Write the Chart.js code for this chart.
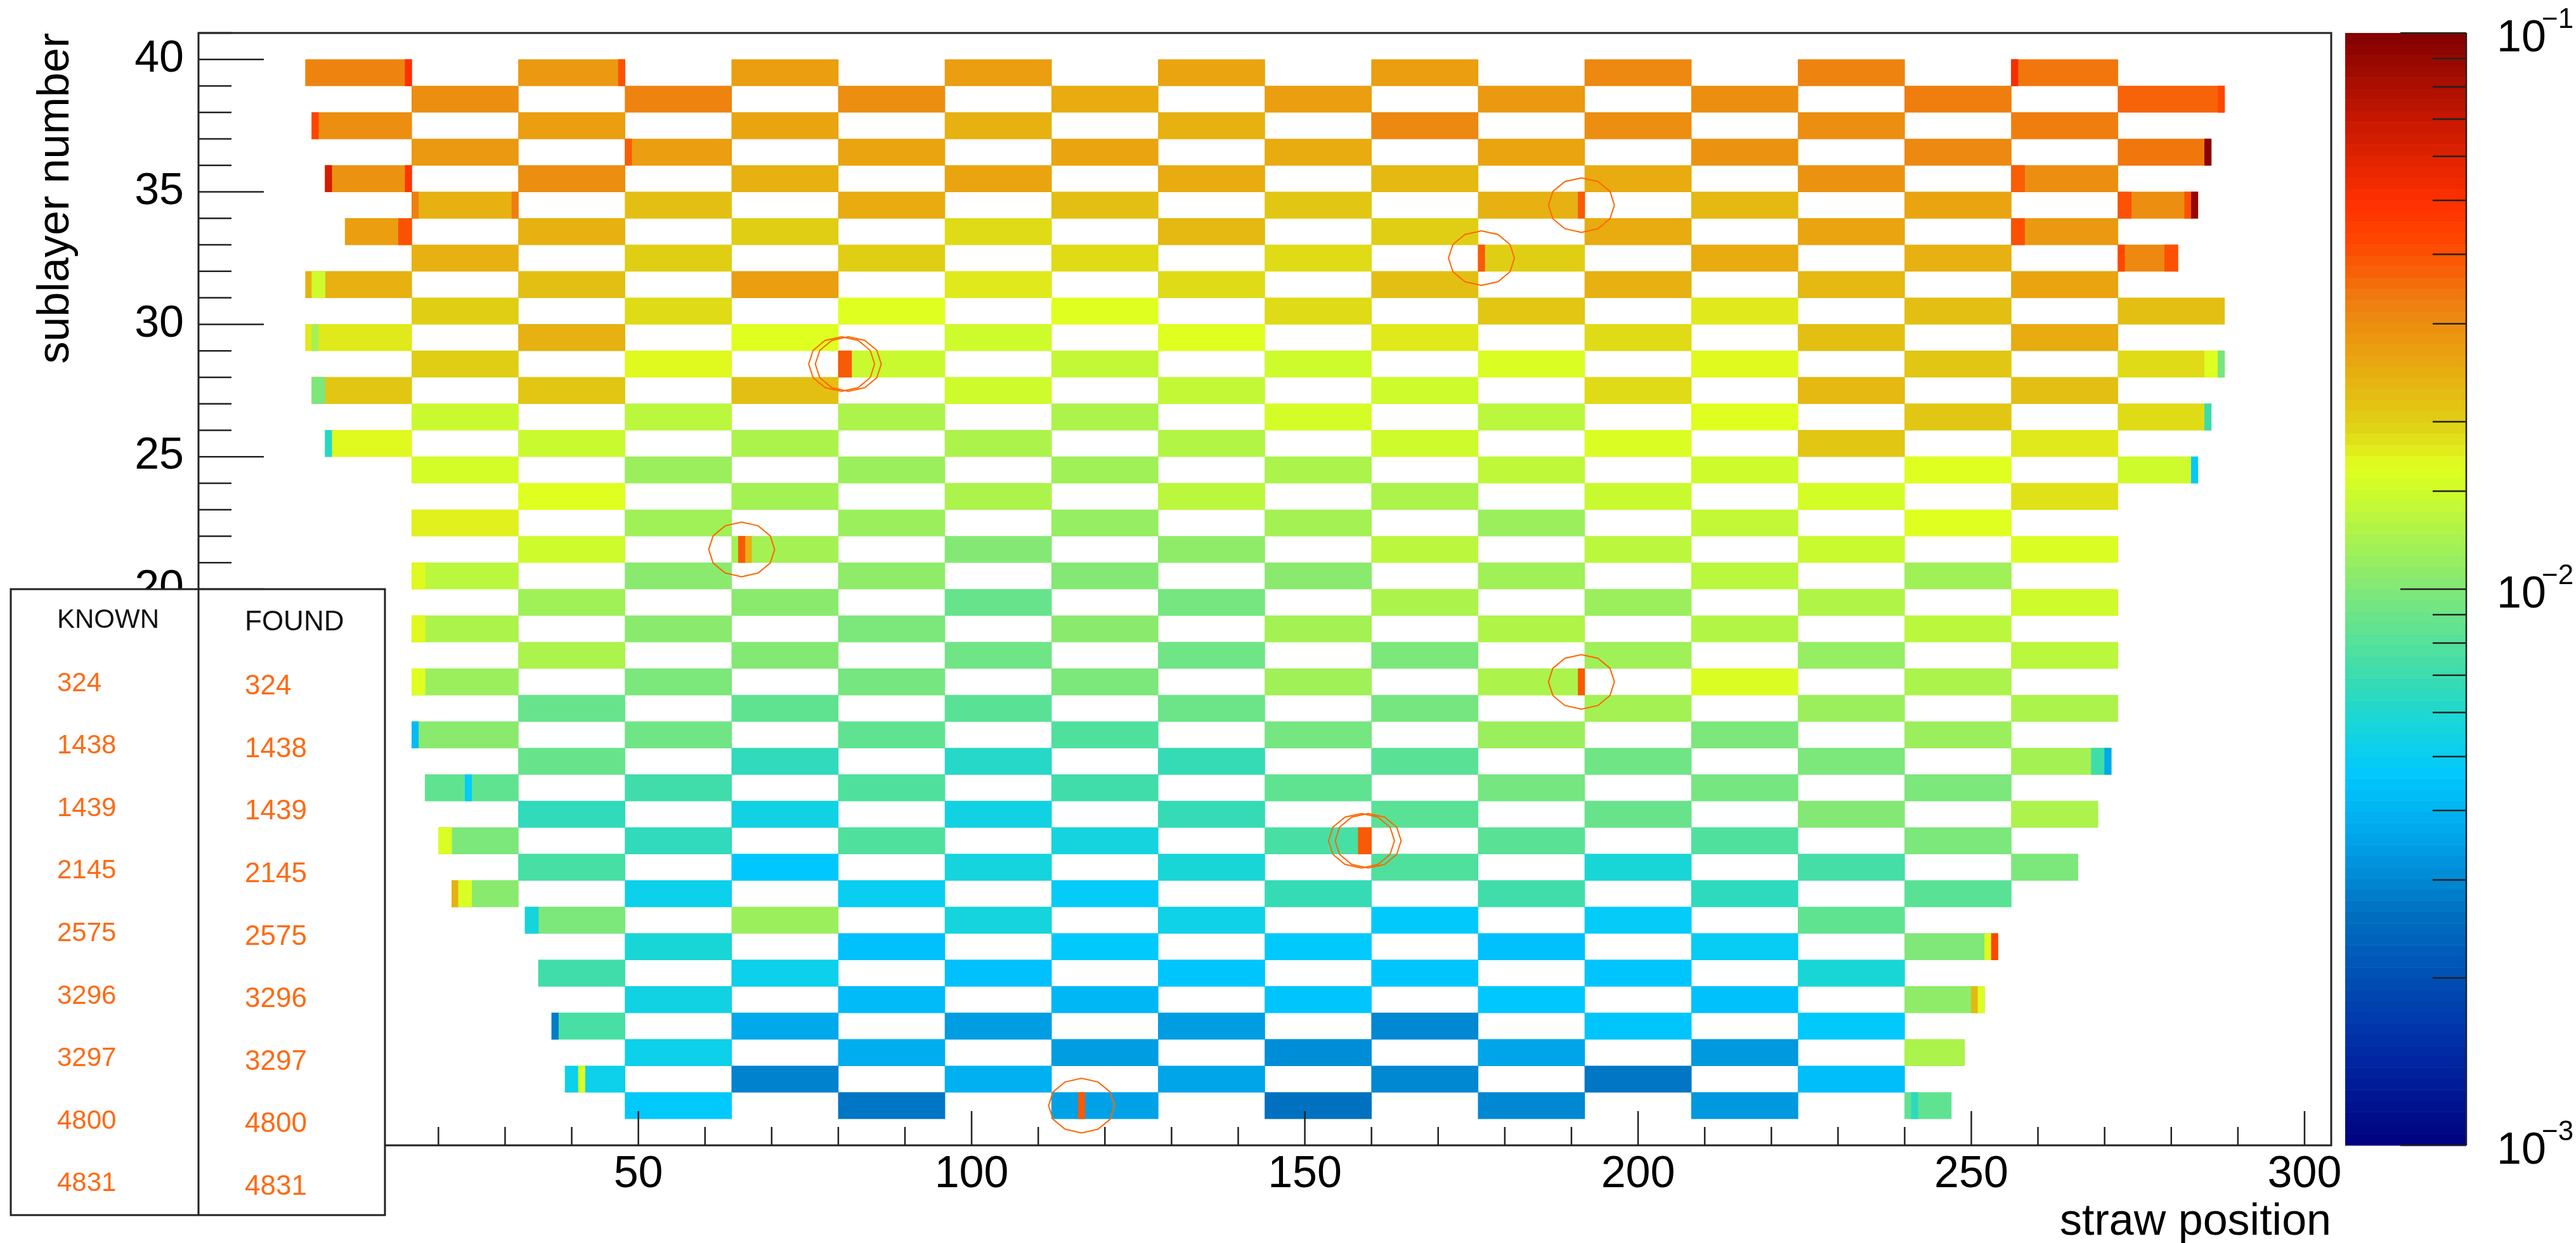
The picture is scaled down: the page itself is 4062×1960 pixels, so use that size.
<!DOCTYPE html>
<html>
<head>
<meta charset="utf-8">
<title>sublayer map</title>
<script src="https://cdn.jsdelivr.net/npm/chart.js@4"></script>
<style>
    html, body { margin: 0; padding: 0; background: #fff; }
    canvas { display: block; }
</style>
</head>
<body>
<canvas id="myChart" width="4062" height="1960"></canvas>
<script>
// rows run from the top of the picture (39) down to 0
const rowNumbers = [39,38,37,36,35,34,33,32,31,30,29,28,27,26,25,24,23,22,21,20,19,18,17,16,15,14,13,12,11,10,9,8,7,6,5,4,3,2,1,0];
const firstStraw = [0,16,1,16,3,16,6,16,0,16,0,16,1,16,3,16,32,16,32,16,32,16,32,16,32,16,32,18,32,20,32,22,33,48,35,48,37,48,39,48];
const lastStraw = [272,288,272,286,272,284,272,281,272,288,272,288,272,286,272,284,272,256,272,256,272,256,272,256,272,256,271,256,269,256,266,256,240,254,240,252,240,249,240,247];

// one level per 16-straw board, every second board in a row
const boardValues = [
    [.032,.028,.027,.027,.026,.027,.031,.032,.034],
    [.03,.032,.03,.025,.027,.028,.03,.033,.037],
    [.03,.027,.026,.024,.024,.031,.03,.03,.033],
    [.028,.027,.026,.026,.025,.026,.029,.031,.034],
    [.029,.03,.024,.026,.025,.023,.025,.029,.03],
    [.024,.022,.025,.022,.021,.024,.023,.026,.03],
    [.027,.024,.02,.019,.023,.02,.025,.026,.028],
    [.024,.02,.02,.019,.019,.02,.025,.024,.031],
    [.024,.022,.027,.018,.019,.022,.024,.023,.026],
    [.02,.019,.0165,.0165,.019,.021,.018,.022,.022],
    [.018,.024,.0165,.015,.0165,.018,.019,.022,.025],
    [.02,.017,.0145,.014,.015,.016,.017,.021,.019],
    [.021,.021,.022,.015,.014,.015,.019,.023,.022],
    [.0145,.0135,.0125,.0125,.0155,.0135,.0165,.021,.019],
    [.017,.0145,.0125,.0125,.013,.015,.016,.021,.018],
    [.0155,.0115,.0115,.0118,.0125,.0138,.015,.0165,.015],
    [.0165,.012,.0125,.0135,.0125,.0145,.0155,.0185],
    [.0175,.0118,.0115,.0112,.012,.0115,.014,.0165],
    [.015,.012,.0102,.0108,.0135,.0135,.0145,.016],
    [.0135,.0105,.0108,.0102,.0105,.0118,.0135,.0118],
    [.0118,.0105,.0088,.0095,.0125,.0115,.0128,.015],
    [.0125,.0105,.0098,.0105,.012,.0128,.013,.0135],
    [.0125,.0102,.0092,.0092,.0098,.0118,.0112,.0135],
    [.0115,.0098,.0095,.0098,.0118,.0125,.016,.0125],
    [.0088,.0085,.0082,.009,.0095,.012,.0115,.0125],
    [.0105,.0092,.0085,.0078,.0095,.0115,.0098,.0115],
    [.0088,.0066,.0062,.0068,.0082,.0092,.0098,.012],
    [.0085,.0072,.0078,.0072,.0085,.0095,.0095,.0098],
    [.0066,.0054,.0054,.0068,.0082,.0088,.0102,.0125],
    [.0098,.0066,.0078,.0056,.0075,.0082,.0078,.0098],
    [.0075,.0046,.0056,.0058,.0078,.0058,.0074,.0098],
    [.0105,.0052,.005,.0048,.0068,.0072,.0065,.0082],
    [.0098,.0115,.0056,.0053,.0047,.0048,.0085],
    [.0058,.0044,.0047,.0047,.0044,.0049,.01],
    [.0072,.0052,.0044,.0045,.0045,.0045,.0058],
    [.0054,.0042,.0041,.0045,.0046,.0044,.0108],
    [.0075,.0037,.0034,.0034,.003,.0045,.0047],
    [.0052,.0038,.0034,.0031,.0036,.0033,.0125],
    [.0052,.0029,.0039,.0036,.003,.0027,.0043],
    [.0047,.0027,.0035,.0026,.003,.0033,.0085],
];

// single straws that stand out from their board
const oddRows = [39,39,39,38,37,36,36,35,35,35,35,34,34,34,34,34,34,33,33,33,33,32,32,32,31,31,29,28,28,28,27,27,26,25,24,21,20,20,18,18,16,16,14,13,13,13,12,10,10,8,8,8,7,7,6,6,4,4,3,1,0];
const oddStraws = [15,47,256,287,1,48,285,3,15,256,257,16,31,272,273,282,283,14,15,256,257,272,279,280,1,2,1,285,286,287,1,2,285,3,283,66,16,17,16,17,16,17,16,268,269,270,24,20,21,22,23,24,33,34,252,253,250,251,37,41,241];
const oddValues = [.05,.04,.052,.042,.043,.038,.095,.065,.048,.038,.038,.033,.033,.04,.04,.04,.09,.04,.04,.04,.04,.042,.04,.04,.015,.015,.012,.0165,.0165,.0095,.0098,.0098,.007,.0062,.0047,.024,.017,.017,.017,.017,.0165,.0165,.0042,.0072,.0072,.0037,.0048,.016,.016,.024,.016,.016,.0056,.0056,.017,.042,.023,.016,.0028,.016,.0065];

// the straws circled in the picture
const foundRows = [34,32,28,28,21,16,10,10,0];
const foundStraws = [191,176,80,81,65,191,158,159,116];
const foundValue = .0385;

const knownIds = ["324","1438","1439","2145","2575","3296","3297","4800","4831"];
const foundIds = ["324","1438","1439","2145","2575","3296","3297","4800","4831"];

const xTickValues = [0,10,20,30,40,50,60,70,80,90,100,110,120,130,140,150,160,170,180,190,200,210,220,230,240,250,260,270,280,290,300];
const xTickLabels = [50,100,150,200,250,300];
const yTickLabels = [40,35,30,25,20];
const zMin = 0.001;
const zMax = 0.1;

const paletteStops = [
    [0, [0,0,128]], [.1, [0,50,170]], [.208, [0,112,192]], [.27, [0,160,230]], [.332, [0,200,255]],
    [.38, [24,214,216]], [.42, [56,220,176]], [.5, [128,232,120]], [.58, [200,250,48]], [.61, [224,255,32]],
    [.648, [224,208,21]], [.70, [232,170,16]], [.757, [238,128,16]], [.81, [255,72,0]], [.848, [255,48,0]],
    [.92, [200,24,0]], [1, [128,0,0]],
];

const fontName = "'Liberation Sans', Arial, sans-serif";
const frameColor = "#222";
const orange = "#ff6a14";

function paletteColor(t) {
    t = Math.max(0, Math.min(1, t));
    for (let i = 1; i < paletteStops.length; i++) {
        if (t <= paletteStops[i][0]) {
            const [t0, c0] = paletteStops[i - 1];
            const [t1, c1] = paletteStops[i];
            const f = (t - t0) / (t1 - t0);
            const rgb = c0.map((c, j) => Math.round(c + (c1[j] - c) * f));
            return `rgb(${rgb[0]},${rgb[1]},${rgb[2]})`;
        }
    }
    return "rgb(128,0,0)";
}

function valueColor(v) {
    return paletteColor((Math.log10(v) - Math.log10(zMin)) / (Math.log10(zMax) - Math.log10(zMin)));
}

function buildBars() {
    const bars = [];
    rowNumbers.forEach((row, i) => {
        let board = Math.floor(firstStraw[i] / 16);
        for (const v of boardValues[i]) {
            const from = Math.max(board * 16, firstStraw[i]);
            const to = Math.min(board * 16 + 16, lastStraw[i]);
            bars.push({ x: [from, to], y: row + 0.5, v: v });
            board += 2;
        }
    });
    oddRows.forEach((row, i) => {
        bars.push({ x: [oddStraws[i], oddStraws[i] + 1], y: row + 0.5, v: oddValues[i] });
    });
    foundRows.forEach((row, i) => {
        bars.push({ x: [foundStraws[i], foundStraws[i] + 1], y: row + 0.5, v: foundValue });
    });
    return bars;
}

function line(ctx, x0, y0, x1, y1) {
    ctx.beginPath();
    ctx.moveTo(x0, y0);
    ctx.lineTo(x1, y1);
    ctx.stroke();
}

function noPadding(scale) {
    scale.paddingTop = 0;
    scale.paddingBottom = 0;
    scale.paddingLeft = 0;
    scale.paddingRight = 0;
}

// axis ticks point into the frame, which the library does not do by itself
function drawFrameAndTicks(chart) {
    const ctx = chart.ctx;
    const area = chart.chartArea;
    ctx.strokeStyle = frameColor;
    ctx.lineWidth = 3;
    ctx.strokeRect(area.left, area.top, area.right - area.left, area.bottom - area.top);
    ctx.lineWidth = 2.5;
    for (const t of chart.scales.y.ticks) {
        const y = chart.scales.y.getPixelForValue(t.value);
        line(ctx, area.left, y, area.left + (t.value % 5 === 0 ? 103 : 52), y);
    }
    for (const t of chart.scales.x.ticks) {
        const x = chart.scales.x.getPixelForValue(t.value);
        line(ctx, x, area.bottom, x, area.bottom - (t.value % 50 === 0 ? 54 : 29));
    }
}

function drawColorBar(chart) {
    const ctx = chart.ctx;
    const z = chart.scales.z;
    const left = z.left + 22;
    const right = z.left + 213;
    const steps = 100;
    for (let i = 0; i < steps; i++) {
        const lo = Math.pow(10, -3 + 2 * i / steps);
        const hi = Math.pow(10, -3 + 2 * (i + 1) / steps);
        const y0 = z.getPixelForValue(hi);
        const y1 = z.getPixelForValue(lo);
        ctx.fillStyle = paletteColor((i + 0.5) / steps);
        ctx.fillRect(left, y0, right - left, y1 - y0 + 0.5);
    }
    ctx.strokeStyle = frameColor;
    ctx.lineWidth = 2.5;
    line(ctx, right, z.top, right, z.bottom);
    for (const t of z.ticks) {
        const exp = Math.log10(t.value);
        const major = Math.abs(exp - Math.round(exp)) < 1e-6;
        const y = z.getPixelForValue(t.value);
        line(ctx, right, y, right - (major ? 104 : 53), y);
        if (major) {
            ctx.fillStyle = "#000";
            ctx.textAlign = "left";
            ctx.textBaseline = "middle";
            ctx.font = `70px ${fontName}`;
            ctx.fillText("10", z.left + 261, y + 10);
            ctx.font = `44px ${fontName}`;
            ctx.fillText("\u2212" + Math.abs(Math.round(exp)), z.left + 332, y - 20);
        }
    }
}

function drawCircles(chart) {
    const ctx = chart.ctx;
    ctx.strokeStyle = "#ff6600";
    ctx.lineWidth = 2;
    foundRows.forEach((row, i) => {
        const cx = chart.scales.x.getPixelForValue(foundStraws[i] + 0.5);
        const cy = chart.scales.y.getPixelForValue(row + 0.5);
        ctx.beginPath();
        for (let k = 0; k < 12; k++) {
            const a = k * Math.PI / 6;
            ctx.lineTo(cx + 52 * Math.cos(a), cy + 43 * Math.sin(a));
        }
        ctx.closePath();
        ctx.stroke();
    });
}

function drawTable(chart) {
    const ctx = chart.ctx;
    ctx.fillStyle = "#fff";
    ctx.fillRect(17, 929, 590, 987);
    ctx.strokeStyle = frameColor;
    ctx.lineWidth = 3;
    ctx.strokeRect(17, 929, 590, 987);
    line(ctx, 313, 929, 313, 1916);
    ctx.textAlign = "left";
    ctx.textBaseline = "middle";
    ctx.fillStyle = "#111";
    ctx.font = `42px ${fontName}`;
    ctx.fillText("KNOWN", 90, 978);
    ctx.font = `44px ${fontName}`;
    ctx.fillText("FOUND", 386, 982);
    ctx.fillStyle = orange;
    ctx.font = `42px ${fontName}`;
    knownIds.forEach((id, i) => ctx.fillText(id, 90, 1078 + i * 98.6));
    ctx.font = `44px ${fontName}`;
    foundIds.forEach((id, i) => ctx.fillText(id, 386, 1083 + i * 98.6));
}

const extrasPlugin = {
    id: "extras",
    afterDraw(chart) {
        drawFrameAndTicks(chart);
        drawColorBar(chart);
        drawCircles(chart);
        drawTable(chart);
    },
};

const graph = document.getElementById("myChart").getContext("2d");
const bars = buildBars();

const myChart = new Chart(graph, {
    type: "bar",
    data: {
        datasets: [{
            data: bars,
            backgroundColor: bars.map((b) => valueColor(b.v)),
            borderWidth: 0,
            borderSkipped: false,
            barPercentage: 1,
            categoryPercentage: 1,
        }],
    },
    plugins: [extrasPlugin],
    options: {
        indexAxis: "y",
        responsive: false,
        animation: false,
        devicePixelRatio: 1,
        layout: { padding: { top: 52, left: 0, right: 0, bottom: 0 } },
        plugins: { legend: { display: false }, tooltip: { enabled: false } },
        scales: {
            x: {
                type: "linear",
                position: "bottom",
                min: -16,
                max: 304,
                border: { display: false },
                grid: { drawOnChartArea: false, drawTicks: false },
                afterBuildTicks: (scale) => { scale.ticks = xTickValues.map((v) => ({ value: v })); },
                afterFit: (scale) => { scale.height = 154; noPadding(scale); },
                ticks: {
                    autoSkip: false,
                    maxRotation: 0,
                    padding: 12,
                    color: "#000",
                    font: { family: fontName, size: 70, lineHeight: 1 },
                    callback: (v) => (xTickLabels.includes(v) ? String(v) : ""),
                },
                title: {
                    display: true,
                    text: "straw position",
                    align: "end",
                    color: "#000",
                    font: { family: fontName, size: 70, lineHeight: 1 },
                    padding: { top: 0, bottom: -3 },
                },
            },
            y: {
                type: "linear",
                position: "left",
                min: -1,
                max: 41,
                offset: false,
                border: { display: false },
                grid: { offset: false, drawOnChartArea: false, drawTicks: false },
                afterFit: (scale) => { scale.width = 313; noPadding(scale); },
                ticks: {
                    stepSize: 1,
                    autoSkip: false,
                    includeBounds: false,
                    padding: 23,
                    color: "#000",
                    font: { family: fontName, size: 70, lineHeight: 1 },
                    callback: (v) => (yTickLabels.includes(v) ? String(v) : ""),
                },
                title: {
                    display: true,
                    text: "sublayer number",
                    align: "end",
                    color: "#000",
                    font: { family: fontName, size: 70, lineHeight: 1 },
                    padding: { top: 54, bottom: 0 },
                },
            },
            z: {
                type: "logarithmic",
                position: "right",
                min: zMin,
                max: zMax,
                border: { display: false },
                grid: { drawOnChartArea: false, drawTicks: false },
                afterFit: (scale) => { scale.width = 386; noPadding(scale); },
                ticks: { autoSkip: false, callback: () => "" },
            },
        },
    },
});
</script>
</body>
</html>
